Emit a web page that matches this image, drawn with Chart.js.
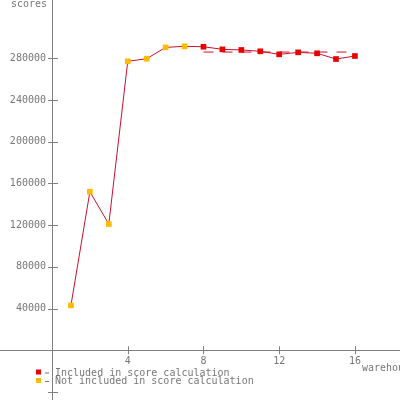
<!DOCTYPE html>
<html>
<head>
<meta charset="utf-8">
<script src="https://cdn.jsdelivr.net/npm/chart.js@4.4.0/dist/chart.umd.min.js"></script>
<style>
  html, body { margin: 0; padding: 0; background: #fff; }
  #wrap { width: 400px; height: 400px; }
</style>
</head>
<body>
<div id="wrap"><canvas id="chart" width="400" height="400"></canvas></div>
<script>
'use strict'
// data
const warehouses = [1, 2, 3, 4, 5, 6, 7, 8, 9, 10, 11, 12, 13, 14, 15, 16];
const scores = [43000, 152000, 121000, 277100, 279600, 290500, 291500, 291100,
                288600, 288000, 286700, 283800, 285700, 284800, 279300, 282200];
const included = [false, false, false, false, false, false, false,
                  true, true, true, true, true, true, true, true, true];
const avgRange = [8, 16];
const avgScore = 286000;
const xTicks = [4, 8, 12, 16];
const yTicks = [-40000, 40000, 80000, 120000, 160000, 200000, 240000, 280000];
const legendLabels = ['Included in score calculation', 'Not included in score calculation'];
const xTitle = 'warehouses';
const yTitle = 'scores';

const gray = '#808080';
const textGray = '#777777';
const lineRed = '#c8102e';
const markRed = '#e60000';
const markYellow = '#ffbb00';
const monoFont = '10px "DejaVu Sans Mono", monospace';

const pts = warehouses.map((w, i) => ({x: w, y: scores[i]}));
const inPts = pts.filter((p, i) => included[i]);
const outPts = pts.filter((p, i) => !included[i]);

// tick marks crossing the axis, titles and the legend
const extras = {
    id: 'extras',
    afterDraw(chart) {
        const ctx = chart.ctx;
        const xs = chart.scales.x, ys = chart.scales.y;
        const x0 = xs.getPixelForValue(0), y0 = ys.getPixelForValue(0);
        ctx.save();
        ctx.strokeStyle = gray;
        ctx.lineWidth = 1;
        ctx.beginPath();
        ys.ticks.forEach(t => {
            const py = Math.round(ys.getPixelForValue(t.value)) + 0.5;
            ctx.moveTo(x0 - 4, py); ctx.lineTo(x0 + 6, py);
        });
        xs.ticks.forEach(t => {
            const px = Math.round(xs.getPixelForValue(t.value)) + 0.5;
            ctx.moveTo(px, y0 - 4); ctx.lineTo(px, y0 + 4);
        });
        ctx.stroke();

        ctx.font = monoFont;
        ctx.fillStyle = textGray;
        ctx.textBaseline = 'alphabetic';
        ctx.textAlign = 'left';
        ctx.fillText(yTitle, 11, 7);
        ctx.fillText(xTitle, 362, 371);

        // legend
        const colors = [markRed, markYellow];
        legendLabels.forEach((lab, i) => {
            const by = 375.5 + i * 8.5;
            ctx.fillStyle = colors[i];
            ctx.fillRect(36, by - 6, 5, 5);
            ctx.fillStyle = textGray;
            ctx.fillRect(45, by - 3, 4, 1);
            ctx.fillText(lab, 55, by);
        });
        ctx.restore();
    }
};

const noPad = scale => { scale.paddingTop = 0; scale.paddingBottom = 0; scale.paddingLeft = 0; scale.paddingRight = 0; };

const chart = new Chart(document.getElementById('chart'), {
    type: 'scatter',
    data: {
        datasets: [
            {
                label: legendLabels[1],
                data: outPts,
                pointStyle: 'rect',
                pointRadius: 4,
                backgroundColor: markYellow,
                borderColor: markYellow,
                borderWidth: 0,
                order: 0
            },
            {
                label: legendLabels[0],
                data: inPts,
                pointStyle: 'rect',
                pointRadius: 4,
                backgroundColor: markRed,
                borderColor: markRed,
                borderWidth: 0,
                order: 0
            },
            {
                label: 'line',
                data: pts,
                showLine: true,
                pointRadius: 0,
                borderColor: lineRed,
                borderWidth: 1,
                order: 2
            },
            {
                label: 'average',
                data: [{x: avgRange[0], y: avgScore}, {x: avgRange[1], y: avgScore}],
                showLine: true,
                pointRadius: 0,
                borderColor: lineRed,
                borderWidth: 1,
                borderDash: [10, 9],
                order: 3
            }
        ]
    },
    options: {
        responsive: false,
        animation: false,
        devicePixelRatio: 1,
        layout: {padding: 0, autoPadding: false},
        plugins: {legend: {display: false}, tooltip: {enabled: false}},
        scales: {
            x: {
                type: 'linear',
                position: {y: 0},
                min: -2.747,
                max: 18.38,
                afterBuildTicks: s => { s.ticks = xTicks.map(v => ({value: v})); },
                afterFit: noPad,
                grid: {display: false, drawTicks: false, tickLength: 0},
                border: {display: true, color: gray, width: 1},
                ticks: {
                    color: textGray,
                    font: {family: '"DejaVu Sans Mono", monospace', size: 10},
                    padding: 5,
                    maxRotation: 0,
                    autoSkip: false
                }
            },
            y: {
                type: 'linear',
                position: {x: 0},
                min: -47770,
                max: 335930,
                afterBuildTicks: s => { s.ticks = yTicks.map(v => ({value: v})); },
                afterFit: noPad,
                grid: {display: false, drawTicks: false, tickLength: 0},
                border: {display: true, color: gray, width: 1},
                ticks: {
                    color: textGray,
                    font: {family: '"DejaVu Sans Mono", monospace', size: 10},
                    autoSkip: false,
                    // axis sits at x = 0, so the gap before it is a trailing space
                    callback: v => v > 0 ? v + ' ' : ''
                }
            }
        }
    },
    plugins: [extras]
});
</script>
</body>
</html>
